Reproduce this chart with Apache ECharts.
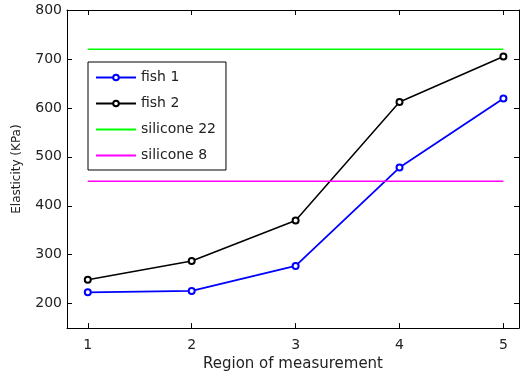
<!DOCTYPE html>
<html><head><meta charset="utf-8">
<script src="https://cdn.jsdelivr.net/npm/echarts@6/dist/echarts.min.js"></script>
<style>html,body{margin:0;padding:0;background:#fff}#c{width:521px;height:377px}</style>
</head><body><div id="c"></div>
<script>
const regions = [1, 2, 3, 4, 5];
const fish1 = [223, 226, 277, 478, 619];
const fish2 = [249, 287, 370, 612, 705];
const silicone22 = [720, 720, 720, 720, 720];
const silicone8 = [450, 450, 450, 450, 450];
const xTicks = [1, 2, 3, 4, 5];
const yTicks = [200, 300, 400, 500, 600, 700, 800];

const font = '"DejaVu Sans", sans-serif';
const pair = arr => regions.map((r, i) => [r, arr[i]]);
const chart = echarts.init(document.getElementById('c'));
const axisCommon = {
  axisLine: {show: true, lineStyle: {color: '#000', width: 1}},
  splitLine: {show: false}
};
chart.setOption({
  animation: false,
  grid: {left: 67, right: 2, top: 10, bottom: 47},
  legend: {
    left: 88, top: 62, orient: 'vertical',
    itemWidth: 40, itemHeight: 7, itemGap: 11,
    padding: [8, 10, 7, 7],
    borderColor: '#000', borderWidth: 1, backgroundColor: '#fff',
    textStyle: {fontFamily: font, fontSize: 14, color: '#222', lineHeight: 15},
    data: ['fish 1', 'fish 2', 'silicone 22', 'silicone 8']
  },
  xAxis: [{
    type: 'value', min: 0.8, max: 5.15, position: 'bottom', ...axisCommon,
    axisTick: {show: true, inside: true, length: 5, customValues: xTicks, lineStyle: {color: '#000'}},
    axisLabel: {customValues: xTicks, fontFamily: font, fontSize: 14, color: '#222', margin: 10},
    name: 'Region of measurement', nameLocation: 'middle', nameGap: 27,
    nameTextStyle: {fontFamily: font, fontSize: 15, color: '#222'}
  }, {
    type: 'value', min: 0.8, max: 5.15, position: 'top', ...axisCommon,
    axisTick: {show: true, inside: true, length: 5, customValues: xTicks, lineStyle: {color: '#000'}},
    axisLabel: {show: false}
  }],
  yAxis: [{
    type: 'value', min: 150, max: 800, position: 'left', ...axisCommon,
    axisTick: {show: true, inside: true, length: 5, customValues: yTicks, lineStyle: {color: '#000'}},
    axisLabel: {customValues: yTicks, fontFamily: font, fontSize: 14, color: '#222', margin: 5},
    name: 'Elasticity (KPa)', nameLocation: 'middle', nameGap: 44, nameRotate: 90,
    nameTextStyle: {fontFamily: font, fontSize: 12, color: '#222'}
  }, {
    type: 'value', min: 150, max: 800, position: 'right', ...axisCommon,
    axisTick: {show: true, inside: true, length: 5, customValues: yTicks, lineStyle: {color: '#000'}},
    axisLabel: {show: false}
  }],
  series: [
    {name: 'fish 1', type: 'line', data: pair(fish1), symbol: 'emptyCircle', symbolSize: 6,
     lineStyle: {color: '#0000ff', width: 1.8}, itemStyle: {color: '#0000ff', borderWidth: 1.5}},
    {name: 'fish 2', type: 'line', data: pair(fish2), symbol: 'emptyCircle', symbolSize: 6,
     lineStyle: {color: '#000', width: 1.5}, itemStyle: {color: '#000', borderWidth: 1.5}},
    {name: 'silicone 22', type: 'line', data: pair(silicone22), symbol: 'none',
     lineStyle: {color: '#00ff00', width: 1.5}, itemStyle: {color: '#00ff00', opacity: 0}},
    {name: 'silicone 8', type: 'line', data: pair(silicone8), symbol: 'none',
     lineStyle: {color: '#ff00ff', width: 1.5}, itemStyle: {color: '#ff00ff', opacity: 0}}
  ]
});
</script></body></html>
